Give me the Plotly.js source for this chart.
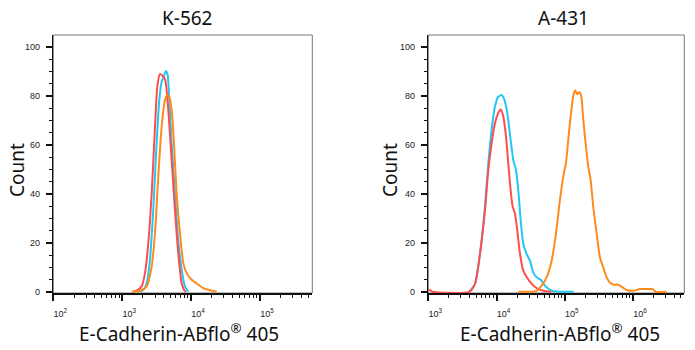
<!DOCTYPE html>
<html>
<head>
<meta charset="utf-8">
<script src="https://cdn.plot.ly/plotly-3.0.1.min.js"></script>
<style>html,body{margin:0;padding:0;background:#fff}#chart{width:695px;height:350px}</style>
</head>
<body>
<div id="chart"></div>
<script>
// ---- Data (x as log10 of fluorescence intensity, y as count) ----
const panelTitles = ["K-562", "A-431"];
const xAxisTitle = "E-Cadherin-ABflo<sup>®</sup> 405";
const yAxisTitle = "Count";
const leftTickVals = [100, 1000, 10000, 100000];
const leftTickText = ["10<sup>2</sup>", "10<sup>3</sup>", "10<sup>4</sup>", "10<sup>5</sup>"];
const rightTickVals = [1000, 10000, 100000, 1000000];
const rightTickText = ["10<sup>3</sup>", "10<sup>4</sup>", "10<sup>5</sup>", "10<sup>6</sup>"];

// K-562
const k562RedLog   = [3.15, 3.21, 3.283, 3.331, 3.379, 3.428, 3.476, 3.51, 3.549, 3.597, 3.626, 3.67, 3.718, 3.766, 3.814, 3.864, 3.911, 3.93];
const k562RedCount = [0, 0.5, 2.2, 7.6, 19.8, 40, 67, 83.7, 88.9, 87.8, 86.4, 74, 53.8, 33.4, 15.8, 3.5, 0.3, 0];
const k562CyanLog   = [3.26, 3.31, 3.356, 3.403, 3.451, 3.5, 3.538, 3.573, 3.611, 3.636, 3.66, 3.684, 3.718, 3.766, 3.814, 3.864, 3.911, 3.96];
const k562CyanCount = [0, 0.9, 3.5, 13, 33.4, 60.6, 78, 85.7, 88.5, 90.1, 88.5, 78, 60.6, 40, 21, 9, 2.2, 0];
const k562OrangeLog   = [3.14, 3.26, 3.356, 3.428, 3.476, 3.524, 3.573, 3.621, 3.655, 3.684, 3.718, 3.752, 3.79, 3.839, 3.887, 3.936, 4.009, 4.105, 4.177, 4.25, 4.37];
const k562OrangeCount = [0, 0.4, 2.2, 10.3, 23.9, 47, 67.4, 78.3, 80.3, 79.6, 74.2, 60.6, 40.2, 23.9, 11.7, 7.6, 4.9, 2.9, 1.5, 0.8, 0];

// A-431
const a431RedLog   = [3.0, 3.03, 3.06, 3.6, 3.684, 3.757, 3.83, 3.879, 3.928, 3.977, 4.025, 4.06, 4.098, 4.138, 4.171, 4.206, 4.236, 4.27, 4.303, 4.343, 4.391, 4.45, 4.514, 4.587, 4.684, 4.8];
const a431RedCount = [1.0, 0.6, 0, 0, 3.2, 15.5, 33.2, 49.7, 60.7, 68.9, 73, 74.4, 71.6, 63.4, 52.5, 41.5, 34.7, 31.9, 25.1, 15.5, 8.6, 5.6, 3.2, 1.5, 0.4, 0];
const a431CyanLog   = [3.6, 3.684, 3.757, 3.83, 3.879, 3.928, 3.977, 4.025, 4.074, 4.113, 4.157, 4.206, 4.245, 4.284, 4.318, 4.353, 4.391, 4.44, 4.489, 4.537, 4.587, 4.646, 4.709, 4.807, 4.93, 5.13];
const a431CyanCount = [0, 3.2, 15.5, 34.7, 52.5, 66.2, 75.7, 79.6, 80.3, 78.5, 73, 62, 53.8, 49.7, 41.5, 29.2, 19.6, 15.5, 12.7, 7.9, 5.9, 4.9, 2.5, 0.4, 0, 0];
const a431OrangeLog   = [4.318, 4.587, 4.66, 4.733, 4.807, 4.87, 4.928, 4.977, 5.016, 5.05, 5.085, 5.123, 5.152, 5.182, 5.211, 5.24, 5.27, 5.309, 5.343, 5.378, 5.416, 5.466, 5.514, 5.562, 5.612, 5.66, 5.719, 5.782, 5.846, 5.905, 6.0, 6.1, 6.2, 6.29, 6.33, 6.49];
const a431OrangeCount = [0, 0.4, 2.5, 5.9, 12.7, 23.7, 37.4, 47, 52.5, 62, 71.6, 79.9, 82.3, 80.6, 81.5, 79.9, 70.3, 59.3, 51.1, 45.6, 34.7, 23.7, 14.1, 10, 5.9, 3.8, 2.9, 2.9, 1.8, 0.7, 0.4, 1.1, 1.1, 1.1, 0, 0];

// ---- Styles ----
const RED = "#ff4d4d", CYAN = "#22c8f2", ORANGE = "#ff8a1c";
const toLin = a => a.map(v => Math.pow(10, v));

function tr(xLog, y, color, xa, ya) {
  return {x: toLin(xLog), y: y, type: "scatter", mode: "lines", xaxis: xa, yaxis: ya,
    line: {color: color, width: 2, shape: "spline", smoothing: 0.6}, hoverinfo: "skip", showlegend: false};
}

const traces = [
  tr(k562CyanLog, k562CyanCount, CYAN, "x", "y"),
  tr(k562RedLog, k562RedCount, RED, "x", "y"),
  tr(k562OrangeLog, k562OrangeCount, ORANGE, "x", "y"),
  tr(a431CyanLog, a431CyanCount, CYAN, "x2", "y2"),
  tr(a431RedLog, a431RedCount, RED, "x2", "y2"),
  tr(a431OrangeLog, a431OrangeCount, ORANGE, "x2", "y2")
];

function minorVals(d0, d1, maxLog) {
  const out = [];
  for (let d = d0; d <= d1; d++) for (let k = 2; k <= 9; k++) {
    const v = k * Math.pow(10, d);
    if (Math.log10(v) < maxLog) out.push(v);
  }
  return out;
}

const tickFont = {family: "Liberation Sans, Arial, sans-serif", size: 9, color: "#222"};
function xAxis(domain, range, tv, tt, anchor) {
  return {type: "log", domain: domain, range: range, anchor: anchor,
    showgrid: false, zeroline: false, showline: true, linecolor: "#111", linewidth: 2,
    tickmode: "array", tickvals: tv, ticktext: tt, ticks: "outside", ticklen: 6, tickwidth: 2, tickcolor: "#111",
    ticklabelshift: 7, ticklabelstandoff: 5, tickfont: tickFont,
    minor: {tickmode: "array", tickvals: minorVals(range[0] < 2.5 ? 2 : 3, 6, range[1]), ticks: "outside", ticklen: 3, tickwidth: 1, tickcolor: "#111", showgrid: false},
    fixedrange: true};
}
function yAxis(domain, anchor) {
  return {domain: domain, range: [-0.5, 104.8], anchor: anchor,
    showgrid: false, zeroline: false, showline: true, linecolor: "#111", linewidth: 1.5,
    tickmode: "array", tickvals: [0, 20, 40, 60, 80, 100], ticks: "outside", ticklen: 6, tickwidth: 2, tickcolor: "#111",
    ticklabelstandoff: 4, tickfont: tickFont,
    minor: {dtick: 5, tick0: 0, ticks: "outside", ticklen: 3, tickwidth: 1, tickcolor: "#111", showgrid: false},
    fixedrange: true};
}

const W = 695, H = 350;
const yDom = [1 - 293 / H, 1 - 35 / H];
const titleFont = {family: "Noto Sans, Open Sans, sans-serif", size: 19, color: "#111"};
const axTitleFont = {family: "Noto Sans, Open Sans, sans-serif", size: 19, color: "#111"};

const layout = {
  width: W, height: H, margin: {l: 0, r: 0, t: 0, b: 0},
  paper_bgcolor: "#fff", plot_bgcolor: "#fff",
  xaxis: xAxis([53.3 / W, 312.3 / W], [2, 5.76], leftTickVals, leftTickText, "y"),
  yaxis: yAxis(yDom, "x"),
  xaxis2: xAxis([428.3 / W, 684.3 / W], [3, 6.75], rightTickVals, rightTickText, "y2"),
  yaxis2: yAxis(yDom, "x2"),
  shapes: [
    {type: "rect", xref: "x domain", yref: "y domain", x0: 0, x1: 1, y0: 0, y1: 1, line: {color: "#777", width: 1}, layer: "below"},
    {type: "rect", xref: "x2 domain", yref: "y2 domain", x0: 0, x1: 1, y0: 0, y1: 1, line: {color: "#777", width: 1}, layer: "below"}
  ],
  annotations: [
    {text: panelTitles[0], xref: "paper", yref: "paper", x: 187 / W, y: 1 - 18 / H, showarrow: false, font: titleFont, xanchor: "center", yanchor: "middle"},
    {text: panelTitles[1], xref: "paper", yref: "paper", x: 563 / W, y: 1 - 18 / H, showarrow: false, font: titleFont, xanchor: "center", yanchor: "middle"},
    {text: xAxisTitle, xref: "paper", yref: "paper", x: 178.5 / W, y: 1 - 333 / H, showarrow: false, font: axTitleFont, xanchor: "center", yanchor: "middle"},
    {text: xAxisTitle, xref: "paper", yref: "paper", x: 560 / W, y: 1 - 333 / H, showarrow: false, font: axTitleFont, xanchor: "center", yanchor: "middle"},
    {text: yAxisTitle, xref: "paper", yref: "paper", x: 17 / W, y: 1 - 170 / H, showarrow: false, font: axTitleFont, textangle: -90, xanchor: "center", yanchor: "middle"},
    {text: yAxisTitle, xref: "paper", yref: "paper", x: 390 / W, y: 1 - 170 / H, showarrow: false, font: axTitleFont, textangle: -90, xanchor: "center", yanchor: "middle"}
  ]
};

Plotly.newPlot("chart", traces, layout, {staticPlot: true, displayModeBar: false});
</script>
</body>
</html>
